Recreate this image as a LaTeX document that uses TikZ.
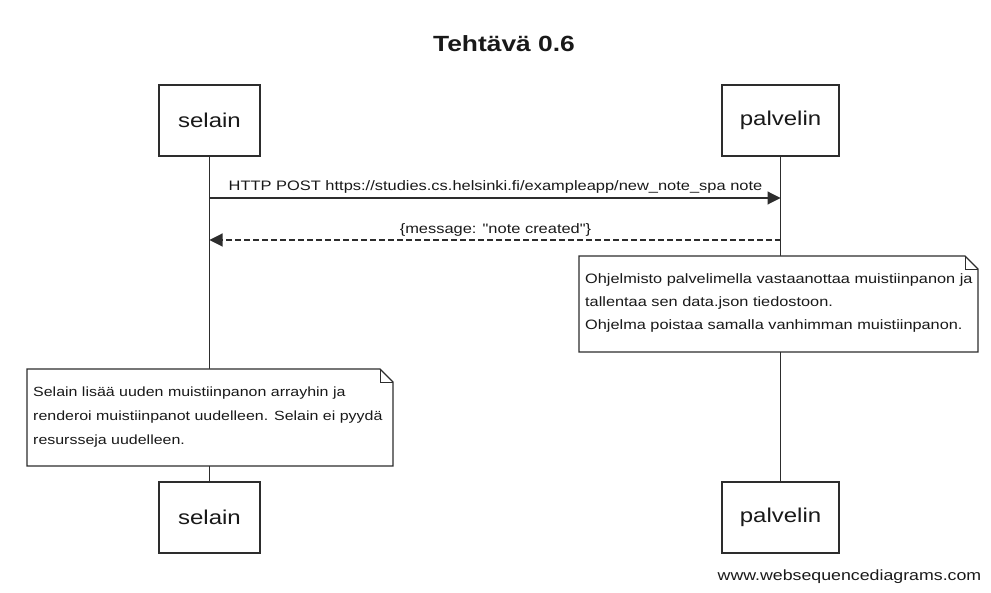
\documentclass[tikz,border=0pt]{standalone}
\usepackage{fontspec}
\setmainfont{Liberation Sans}[FakeStretch=1.2]
\newfontfamily\plainfont{Liberation Sans}[FakeStretch=1.2]
\usetikzlibrary{arrows.meta}
\definecolor{ink}{RGB}{45,45,45}
\definecolor{txt}{RGB}{25,25,25}
\begin{document}
\begin{tikzpicture}[x=1pt,y=-1pt,
  participant/.style={draw=ink, line width=1.2pt, fill=white, minimum height=71pt, inner sep=0pt, font=\fontsize{20}{24}\selectfont, text=txt},
  life/.style={draw=ink, line width=1.2pt},
  msg/.style={draw=ink, line width=1.1pt, -{Triangle[length=13pt,width=13pt]}},
  reply/.style={msg, dash pattern=on 6pt off 3pt},
  lbl/.style={font=\fontsize{13.7}{16}\selectfont, text=txt, inner sep=0pt},
  notetext/.style={text=txt, inner sep=0pt, anchor=base west},
  notebox/.style={draw=ink, line width=1.2pt, fill=white, line join=miter},
  fold/.style={draw=ink, line width=0.6pt}
]
\useasboundingbox (0,0) rectangle (991,593);

% title
\node[font=\bfseries\fontsize{22}{26}\selectfont, text=txt] (title) at (504,44) {Tehtävä 0.6};

% participants
\node[participant, minimum width=101pt] (selTop) at (209.5,120.5) {selain};
\node[participant, minimum width=117pt] (palTop) at (780.5,120.5) {palvelin};
\node[participant, minimum width=101pt] (selBot) at (209.5,517.5) {selain};
\node[participant, minimum width=117pt] (palBot) at (780.5,517.5) {palvelin};

% lifelines
\draw[life] (selTop.south) -- (selBot.north);
\draw[life] (palTop.south) -- (palBot.north);

% messages
\coordinate (m1a) at (selTop.south |- 0,198);
\coordinate (m1b) at (palTop.south |- 0,198);
\draw[msg] (m1a) -- (m1b);
\node[lbl, anchor=base] (m1lbl) at (495.5,191) {HTTP POST https://studies.cs.helsinki.fi/exampleapp/new\_note\_spa note};

\coordinate (m2a) at (palTop.south |- 0,240);
\coordinate (m2b) at (selTop.south |- 0,240);
\draw[reply] (m2a) -- (m2b);
\node[lbl, anchor=base] (m2lbl) at (495.5,234) {\plainfont\{message: "note created"\}};

% note on palvelin
\path[notebox] (579,256) -- (965,256) -- (978,269) -- (978,352) -- (579,352) -- cycle;
\draw[fold] (965,256) -- (965,269) -- (978,269);
\begin{scope}[every node/.append style={font=\fontsize{13.6}{16}\selectfont}]
\node[notetext] (rn1) at (585,284) {Ohjelmisto palvelimella vastaanottaa muistiinpanon ja};
\node[notetext] (rn2) at (585,307) {tallentaa sen data.json tiedostoon.};
\node[notetext] (rn3) at (585,330) {Ohjelma poistaa samalla vanhimman muistiinpanon.};
\end{scope}

% note on selain
\path[notebox] (27,369) -- (380,369) -- (393,382) -- (393,466) -- (27,466) -- cycle;
\draw[fold] (380,369) -- (380,382) -- (393,382);
\begin{scope}[every node/.append style={font=\fontsize{13.3}{16}\selectfont}]
\node[notetext] (ln1) at (33,397) {Selain lisää uuden muistiinpanon arrayhin ja};
\node[notetext] (ln2) at (33,421) {renderoi muistiinpanot uudelleen. Selain ei pyydä};
\node[notetext] (ln3) at (33,445) {resursseja uudelleen.};
\end{scope}

% footer
\node[font=\fontsize{14.8}{17}\selectfont, text=txt, anchor=base, inner sep=0pt] (footer) at (849.5,580) {www.websequencediagrams.com};
\end{tikzpicture}
\end{document}
